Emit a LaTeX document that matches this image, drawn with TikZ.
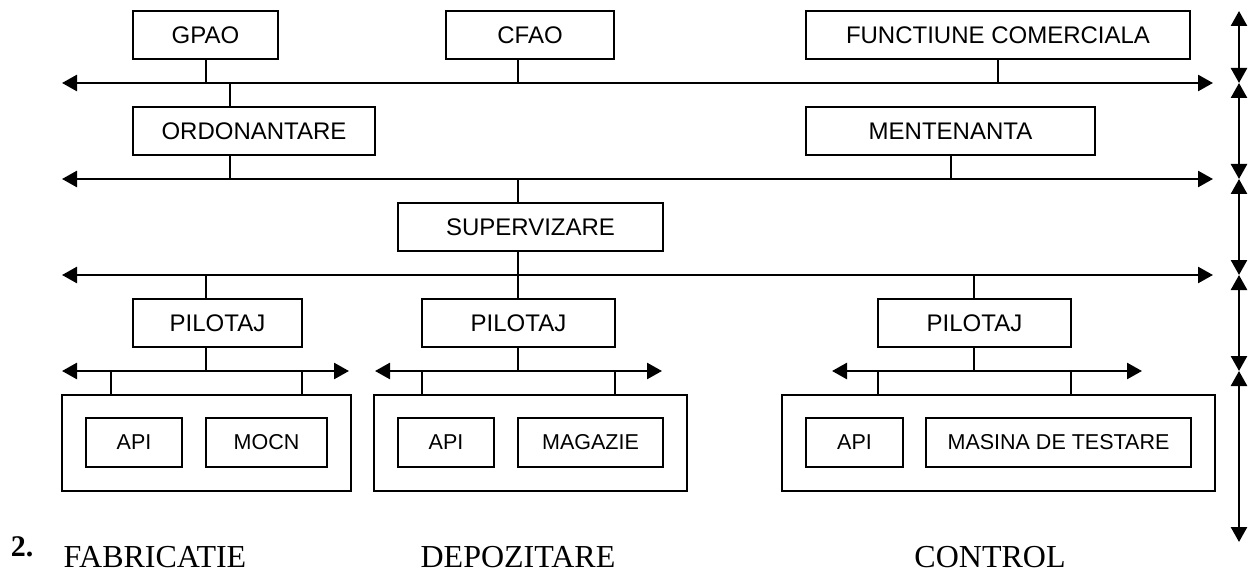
\documentclass[tikz,border=0pt]{standalone}
\usepackage{fontspec}
\setmainfont{Liberation Serif}
\newfontfamily\arialfont{Liberation Sans}
\usetikzlibrary{arrows.meta}

\begin{document}
\begin{tikzpicture}[x=1pt,y=-1pt,
  box/.style={draw, line width=2pt, inner sep=0pt, minimum height=48pt,
              font=\arialfont\fontsize{24}{28}\selectfont},
  unit/.style={draw, line width=2pt, inner sep=0pt, minimum height=49pt,
              font=\arialfont\fontsize{21.5}{25}\selectfont},
  cell/.style={draw, line width=2pt, inner sep=0pt, minimum height=96pt},
  bus/.style={line width=2.6pt,
              {Triangle[length=15pt,width=16pt]}-{Triangle[length=15pt,width=16pt]}},
  tap/.style={line width=2pt},
  caption/.style={font=\fontsize{32}{36}\selectfont, anchor=base}]
\useasboundingbox (0,0) rectangle (1250,572);

% ---- level boxes ----
\node[box, minimum width=145pt] (gpao) at (205.5,35) {GPAO};
\node[box, minimum width=168pt] (cfao) at (530,35)   {CFAO};
\node[box, minimum width=384pt] (func) at (998,35)   {FUNCTIUNE COMERCIALA};
\node[box, minimum width=242pt] (ord)  at (254,131)  {ORDONANTARE};
\node[box, minimum width=289pt] (ment) at (950.5,131){MENTENANTA};
\node[box, minimum width=265pt] (sup)  at (530.5,227){SUPERVIZARE};
\node[box, minimum width=169pt] (pilA) at (217.5,323){PILOTAJ};
\node[box, minimum width=193pt] (pilB) at (518.5,323){PILOTAJ};
\node[box, minimum width=193pt] (pilC) at (974.5,323){PILOTAJ};

% ---- cells with their units ----
\node[cell, minimum width=289pt] (cellA) at (206.5,443) {};
\node[cell, minimum width=313pt] (cellB) at (530.5,443) {};
\node[cell, minimum width=433pt] (cellC) at (998.5,443) {};
\node[unit, minimum width=96pt]  (apiA) at (134,442.5)   {API};
\node[unit, minimum width=121pt] (mocn) at (266.5,442.5) {MOCN};
\node[unit, minimum width=96pt]  (apiB) at (446,442.5)   {API};
\node[unit, minimum width=145pt] (mag)  at (590.5,442.5) {MAGAZIE};
\node[unit, minimum width=97pt]  (apiC) at (854.5,442.5) {API};
\node[unit, minimum width=265pt] (mas)  at (1058.5,442.5){MASINA DE TESTARE};

% ---- network buses ----
\coordinate (busAW) at (62,83);   \coordinate (busAE) at (1213,83);
\coordinate (busBW) at (62,179);  \coordinate (busBE) at (1213,179);
\coordinate (busCW) at (62,275);  \coordinate (busCE) at (1213,275);
\coordinate (locAW) at (62,371);  \coordinate (locAE) at (349,371);
\coordinate (locBW) at (375,371); \coordinate (locBE) at (662,371);
\coordinate (locCW) at (832,371); \coordinate (locCE) at (1142,371);
\foreach \b in {busA,busB,busC,locA,locB,locC}
  \draw[bus] (\b W) -- (\b E);

% ---- taps onto the buses ----
\coordinate (tGpao) at (206,83);  \coordinate (tCfao) at (518,83);
\coordinate (tFunc) at (998,83);  \coordinate (tOrdU) at (230,83);
\coordinate (tOrdD) at (230,179); \coordinate (tMent) at (951,179);
\coordinate (tSupU) at (518,179); \coordinate (tSupD) at (518,275);
\coordinate (tPilA) at (206,275); \coordinate (tPilB) at (518,275);
\coordinate (tPilC) at (974,275);
\coordinate (sPilA) at (206,371); \coordinate (sPilB) at (518,371);
\coordinate (sPilC) at (974,371);
\coordinate (dA1) at (111,371);   \coordinate (dA2) at (302,371);
\coordinate (dB1) at (422,371);   \coordinate (dB2) at (615,371);
\coordinate (dC1) at (878,371);   \coordinate (dC2) at (1071,371);

\draw[tap] (tGpao) -- (tGpao |- gpao.south);
\draw[tap] (tCfao) -- (tCfao |- cfao.south);
\draw[tap] (tFunc) -- (tFunc |- func.south);
\draw[tap] (tOrdU) -- (tOrdU |- ord.north);
\draw[tap] (tOrdD) -- (tOrdD |- ord.south);
\draw[tap] (tMent) -- (tMent |- ment.south);
\draw[tap] (tSupU) -- (tSupU |- sup.north);
\draw[tap] (tSupD) -- (tSupD |- sup.south);
\draw[tap] (tPilA) -- (tPilA |- pilA.north);
\draw[tap] (tPilB) -- (tPilB |- pilB.north);
\draw[tap] (tPilC) -- (tPilC |- pilC.north);
\draw[tap] (sPilA) -- (sPilA |- pilA.south);
\draw[tap] (sPilB) -- (sPilB |- pilB.south);
\draw[tap] (sPilC) -- (sPilC |- pilC.south);
\foreach \d/\c in {dA1/cellA,dA2/cellA,dB1/cellB,dB2/cellB,dC1/cellC,dC2/cellC}
  \draw[tap] (\d) -- (\d |- \c.north);

% ---- level scale on the right ----
\coordinate (lv0) at (1239,11);
\coordinate (lv1) at (1239,83);
\coordinate (lv2) at (1239,179);
\coordinate (lv3) at (1239,275);
\coordinate (lv4) at (1239,371);
\coordinate (lv5) at (1239,542);
\draw[bus] (lv0) -- (lv1);
\draw[bus] (lv1) -- (lv2);
\draw[bus] (lv2) -- (lv3);
\draw[bus] (lv3) -- (lv4);
\draw[bus] (lv4) -- (lv5);

% ---- captions ----
\node[caption, font=\bfseries\fontsize{30}{34}\selectfont] (num) at (22,556) {2.};
\node[caption] (fab) at (155,567) {FABRICATIE};
\node[caption] (dep) at (518,567) {DEPOZITARE};
\node[caption] (ctl) at (990,567) {CONTROL};
\end{tikzpicture}
\end{document}
